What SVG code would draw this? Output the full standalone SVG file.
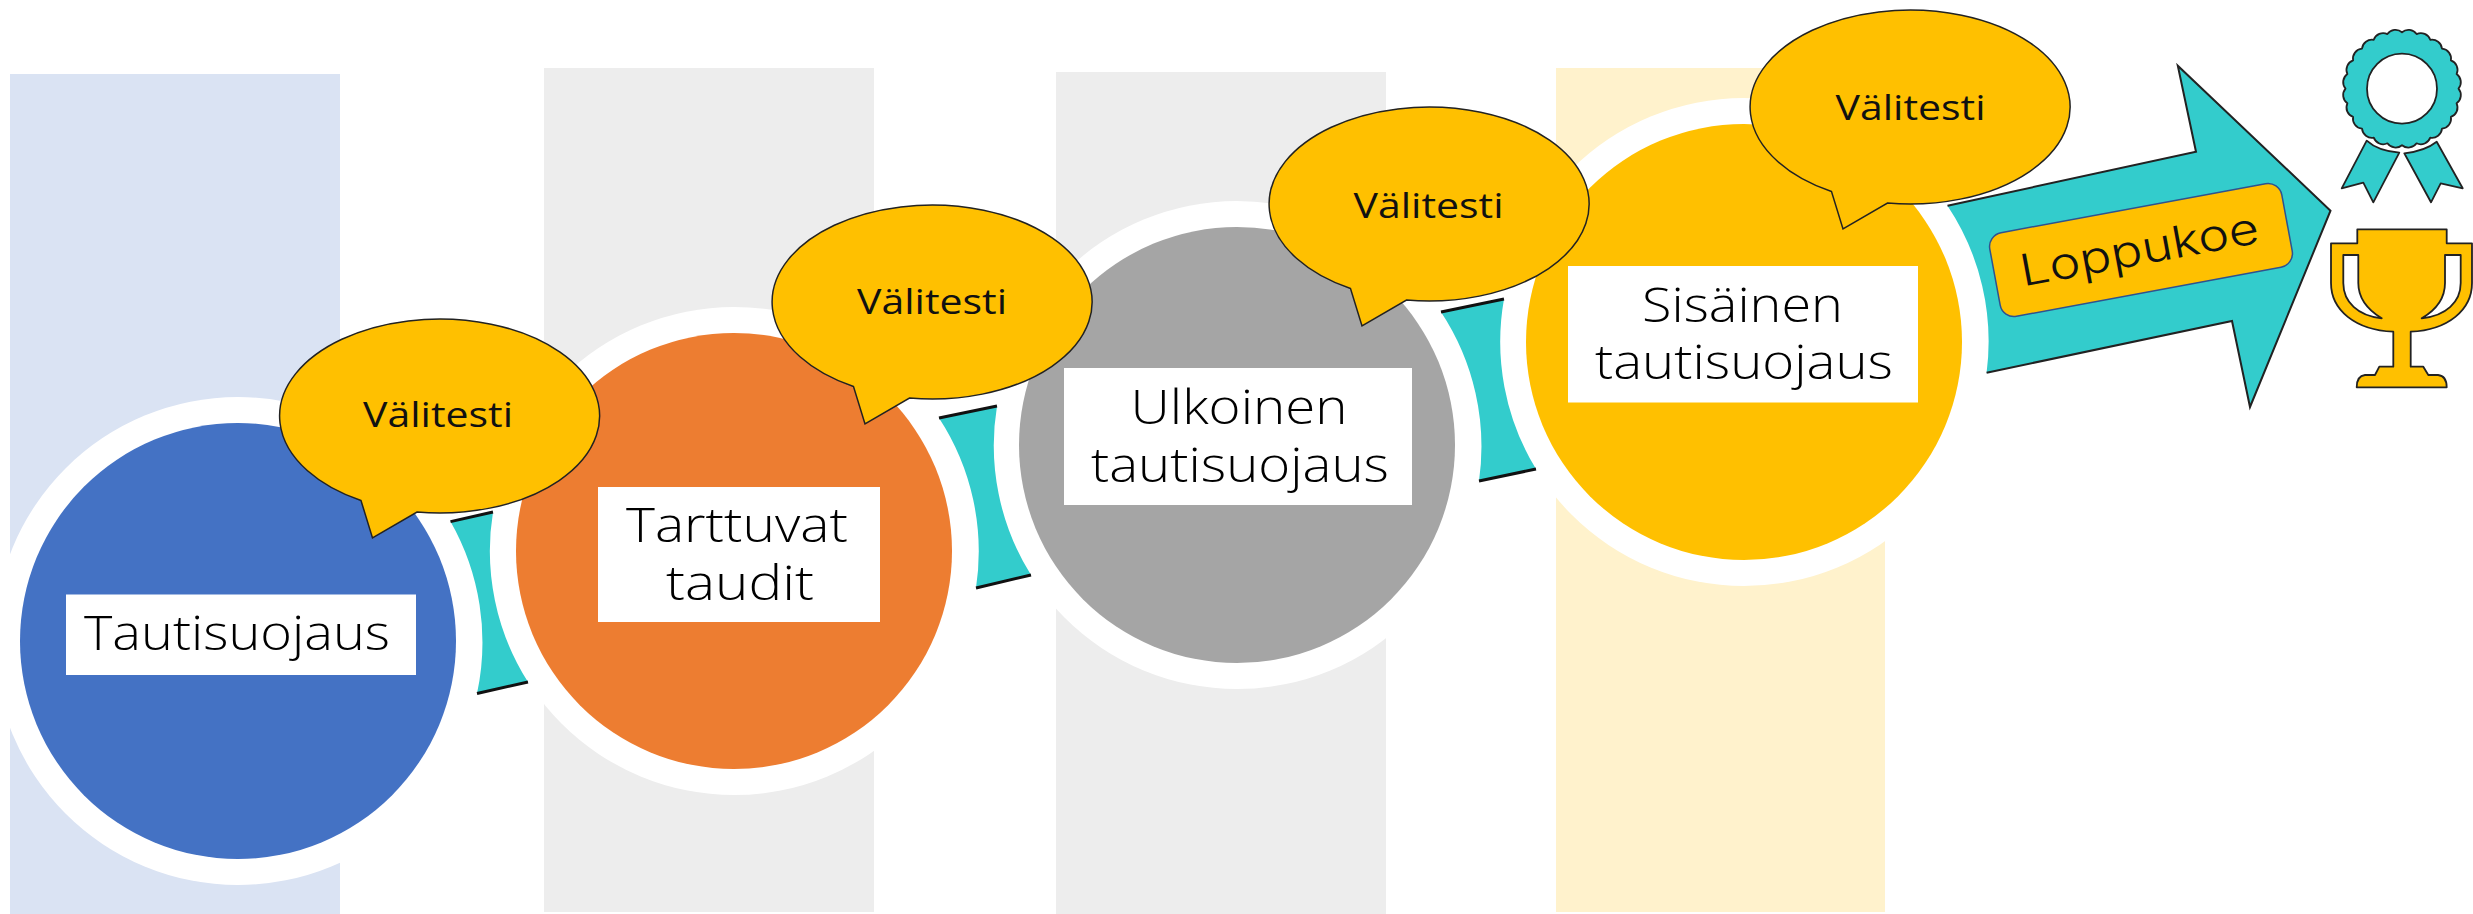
<svg xmlns="http://www.w3.org/2000/svg" width="2473" height="914" viewBox="0 0 2473 914">
<style>
.ring{fill:#fff}
.lbl{fill:#fff}
.t{font-family:"Open Sans","Liberation Sans",sans-serif;font-size:47px;font-weight:300;fill:#000;text-anchor:middle}
.v{font-family:"Open Sans","Liberation Sans",sans-serif;font-size:35px;fill:#111;text-anchor:middle}
.bub{fill:#FFC000;stroke:#222;stroke-width:1.5;stroke-linejoin:miter}
.teal{fill:#33CCCC}
.end{stroke:#111;stroke-width:3;fill:none}
.edge{stroke:#222;stroke-width:2;fill:none;stroke-linejoin:miter}
.icon{stroke:#222;stroke-width:1.800;stroke-linejoin:round}
</style>
<defs>
<path id="bubble" d="M-78.500 84.500 A160 97 0 1 1 -22.500 96.040 L-67 122 Z"/>
</defs>
<rect width="2473" height="914" fill="#fff"/>
<g id="bands">
<rect x="10" y="74" width="330" height="840" fill="#DAE3F3"/>
<rect x="544" y="68" width="330" height="844" fill="#EDEDED"/>
<rect x="1056" y="72" width="330" height="842" fill="#EDEDED"/>
<rect x="1556" y="68" width="329" height="844" fill="#FFF2CC"/>
</g>
<g id="node-tautisuojaus">
<circle class="ring" cx="238" cy="641" r="244"/>
<circle cx="238" cy="641" r="218" fill="#4472C4"/>
<rect class="lbl" x="66" y="594.500" width="350" height="80.500"/>
<text class="t" x="237" y="650" textLength="306" lengthAdjust="spacingAndGlyphs">Tautisuojaus</text>
</g>
<g id="node-tarttuvat">
<circle class="ring" cx="734" cy="551" r="244"/>
<circle cx="734" cy="551" r="218" fill="#ED7D31"/>
<rect class="lbl" x="598" y="487" width="282" height="135"/>
<text class="t" x="737" y="542" textLength="222" lengthAdjust="spacingAndGlyphs">Tarttuvat</text>
<text class="t" x="740" y="599.500" textLength="148" lengthAdjust="spacingAndGlyphs">taudit</text>
</g>
<g id="node-ulkoinen">
<circle class="ring" cx="1237" cy="445" r="244"/>
<circle cx="1237" cy="445" r="218" fill="#A5A5A5"/>
<rect class="lbl" x="1064" y="368" width="348" height="137"/>
<text class="t" x="1239" y="424" textLength="217" lengthAdjust="spacingAndGlyphs">Ulkoinen</text>
<text class="t" x="1240" y="482" textLength="298" lengthAdjust="spacingAndGlyphs">tautisuojaus</text>
</g>
<g id="node-sisainen">
<circle class="ring" cx="1744" cy="342" r="244"/>
<circle cx="1744" cy="342" r="218" fill="#FFC000"/>
<rect class="lbl" x="1568" y="266" width="350" height="136.500"/>
<text class="t" x="1742.500" y="322" textLength="201" lengthAdjust="spacingAndGlyphs">Sisäinen</text>
<text class="t" x="1744" y="379" textLength="298" lengthAdjust="spacingAndGlyphs">tautisuojaus</text>
</g>
<g id="connectors">
<g id="connector-1">
<path class="teal" d="M450.500 521.600 L493 512 A244 244 0 0 0 528 682 L477 693.500 A244 244 0 0 0 450.500 521.600 Z"/>
<path class="end" d="M450.500 521.600 L493 512 M477 693.500 L528 682"/>
</g>
<g id="connector-2">
<path class="teal" d="M939 418 L997 406 A244 244 0 0 0 1031 575 L976 588 A244 244 0 0 0 939 418 Z"/>
<path class="end" d="M939 418 L997 406 M976 588 L1031 575"/>
</g>
<g id="connector-3">
<path class="teal" d="M1441 312 L1504 299 A244 244 0 0 0 1536 469 L1479 481 A244 244 0 0 0 1441 312 Z"/>
<path class="end" d="M1441 312 L1504 299 M1479 481 L1536 469"/>
</g>
</g>
<g id="arrow-loppukoe">
<path class="teal" d="M1947.500 205.700 L2196 151.700 L2177.800 65.700 L2330.500 210.700 L2250 407 L2232 321 L1986.600 372.700 A244.500 244.500 0 0 0 1947.500 205.700 Z"/>
<path class="edge" d="M1947.500 205.700 L2196 151.700 L2177.800 65.700 L2330.500 210.700 L2250 407 L2232 321 L1986.600 372.700"/>
<rect x="-148.500" y="-42.500" width="297" height="85" rx="14" fill="#FFC000" stroke="#2F528F" stroke-width="1.500" transform="translate(2141 250) rotate(-10.500)"/>
<text transform="translate(2142 264.500) rotate(-10.500)" font-family="Inter,'Open Sans',sans-serif" font-size="44" font-weight="300" fill="#111" text-anchor="middle" textLength="242" lengthAdjust="spacingAndGlyphs">Loppukoe</text>
</g>
<g id="bubble-1">
<use href="#bubble" class="bub" x="439.500" y="416"/>
<text class="v" x="438" y="427" textLength="150" lengthAdjust="spacingAndGlyphs">Välitesti</text>
</g>
<g id="bubble-2">
<use href="#bubble" class="bub" x="932" y="302"/>
<text class="v" x="932" y="314" textLength="150" lengthAdjust="spacingAndGlyphs">Välitesti</text>
</g>
<g id="bubble-3">
<use href="#bubble" class="bub" x="1429" y="204"/>
<text class="v" x="1428.500" y="217.500" textLength="150" lengthAdjust="spacingAndGlyphs">Välitesti</text>
</g>
<g id="bubble-4">
<use href="#bubble" class="bub" x="1910" y="107"/>
<text class="v" x="1910.500" y="120" textLength="150" lengthAdjust="spacingAndGlyphs">Välitesti</text>
</g>
<g id="icon-rosette">
<path class="icon teal" fill-rule="evenodd" transform="translate(2402 88.700)" d="M56.500 0 A10 10 0 0 1 54.600 14.600 A10 10 0 0 1 48.900 28.250 A10 10 0 0 1 40 40 A10 10 0 0 1 28.250 48.900 A10 10 0 0 1 14.600 54.600 A10 10 0 0 1 0 56.500 A10 10 0 0 1 -14.600 54.600 A10 10 0 0 1 -28.250 48.900 A10 10 0 0 1 -40 40 A10 10 0 0 1 -48.900 28.250 A10 10 0 0 1 -54.600 14.600 A10 10 0 0 1 -56.500 0 A10 10 0 0 1 -54.600 -14.600 A10 10 0 0 1 -48.900 -28.250 A10 10 0 0 1 -40 -40 A10 10 0 0 1 -28.250 -48.900 A10 10 0 0 1 -14.600 -54.600 A10 10 0 0 1 0 -56.500 A10 10 0 0 1 14.600 -54.600 A10 10 0 0 1 28.250 -48.900 A10 10 0 0 1 40 -40 A10 10 0 0 1 48.900 -28.250 A10 10 0 0 1 54.600 -14.600 A10 10 0 0 1 56.500 0 Z M35 0 A35 35 0 1 0 -35 0 A35 35 0 1 0 35 0 Z"/>
<path class="icon teal" d="M2366.700 140.700 Q2378 151 2399.300 152.700 L2373.300 202.300 L2363.300 182.700 L2341.700 188.300 Z"/>
<path class="icon teal" d="M2436.700 141.700 Q2425 151 2404.300 153.300 L2431 202.300 L2440.700 183.300 L2462.700 188.300 Z"/>
</g>
<g id="icon-trophy">
<path class="icon" fill="#FFC000" fill-rule="evenodd" d="M2357.300 229.300 H2446.700 V243.300 H2472 V283 C2472 310 2448 330 2410.700 331.700 V366.700 H2423.300 L2428.300 375 H2438 Q2446.700 376 2446.700 387.300 H2356.700 Q2356.700 376 2365 375 H2375 L2379.300 366.700 H2393.300 V331.700 C2355 330 2331 310 2331 283 V243.300 H2357.300 Z M2343.300 255 H2358.300 V283 C2358.300 298 2368 310 2381.700 318.300 C2358 316 2343.300 302 2343.300 283 Z M2445 255 H2460.700 V283 C2460.700 302 2446 316 2421.700 318.300 C2436 310 2445 298 2445 283 Z"/>
</g>
</svg>
